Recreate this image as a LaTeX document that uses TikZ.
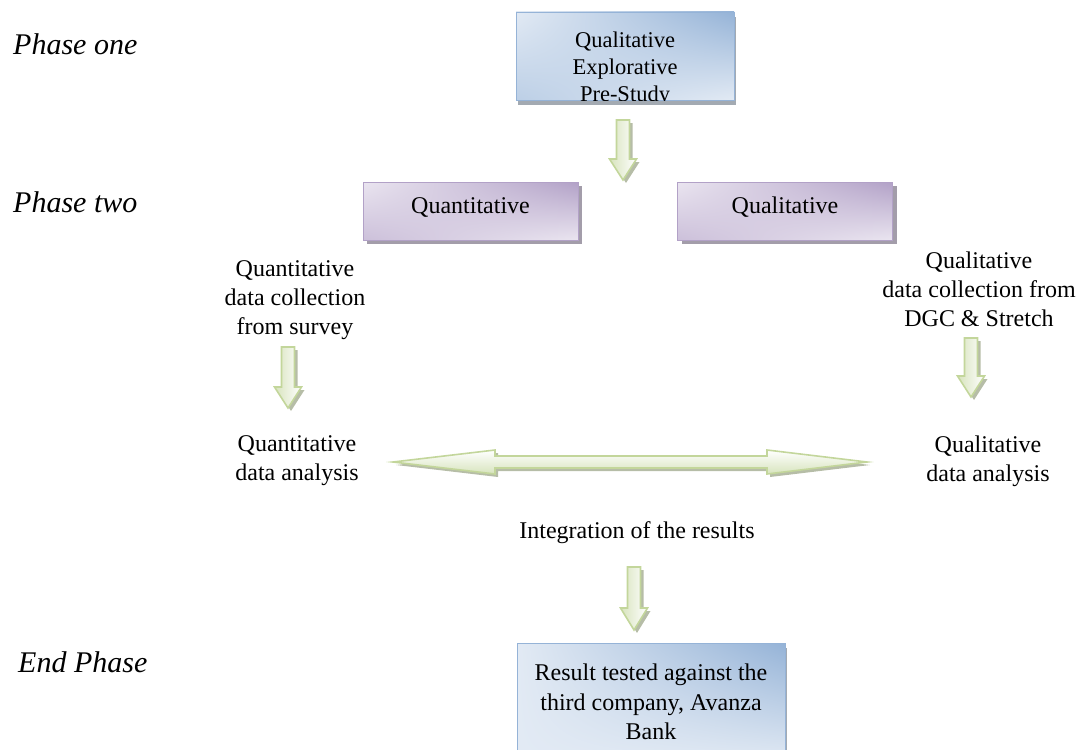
\documentclass[tikz,border=0pt]{standalone}
\usepackage{fontspec}
\setmainfont{Liberation Serif}
\usetikzlibrary{shadows,shadings}

\definecolor{blueDark}{HTML}{95B3D7}
\definecolor{blueMid}{HTML}{BCCFE6}
\definecolor{blueLight}{HTML}{E2EAF4}
\definecolor{blueShadow}{HTML}{A3AAB2}
\definecolor{purpleDark}{HTML}{B2A1C7}
\definecolor{purpleMid}{HTML}{CCC0DA}
\definecolor{purpleLight}{HTML}{EAE5F0}
\definecolor{purpleShadow}{HTML}{A39DAA}
\definecolor{arrowEdge}{HTML}{C3D69B}
\definecolor{arrowFill}{HTML}{D7E4BD}
\definecolor{arrowShade}{HTML}{9EA78A}

% block arrow pointing down: centre x, top y, tip y, head length
\newcommand\blockdown[4]{%
  \fill[arrowshadow,shift={(3,3)}] (#1-6.5,#2) -- (#1+6.5,#2) -- (#1+6.5,#3-#4)
    -- (#1+13.5,#3-#4) -- (#1,#3) -- (#1-13.5,#3-#4) -- (#1-6.5,#3-#4) -- cycle;
  \draw[arrowbody] (#1-6.5,#2) -- (#1+6.5,#2) -- (#1+6.5,#3-#4)
    -- (#1+13.5,#3-#4) -- (#1,#3) -- (#1-13.5,#3-#4) -- (#1-6.5,#3-#4) -- cycle;
}

\begin{document}
\begin{tikzpicture}[x=1pt,y=-1pt,
  txt/.style={align=center, inner sep=0pt, font=\fontsize{24}{29}\selectfont},
  phase/.style={anchor=base west, inner sep=0pt, font=\fontsize{30}{34}\selectfont\itshape},
  bluebox/.style={rectangle, draw=blueDark, line width=0.8pt,
    upper left=blueMid, upper right=blueDark, lower left=blueMid, lower right=blueLight,
    general shadow={fill=blueShadow, shadow xshift=2pt, shadow yshift=-5pt}},
  purplebox/.style={rectangle, draw=purpleDark, line width=0.8pt,
    upper left=purpleLight, upper right=purpleDark, lower left=purpleMid, lower right=purpleLight,
    minimum width=215, minimum height=58, inner sep=0pt,
    text height=17pt, text depth=13pt, font=\fontsize{24}{29}\selectfont,
    general shadow={fill=purpleShadow, shadow xshift=4pt, shadow yshift=-4pt}},
  arrowbody/.style={draw=arrowEdge, line width=1.6pt, line join=miter,
    left color=arrowFill, right color=white},
  arrowshadow/.style={fill=arrowShade, opacity=0.75},
]
\useasboundingbox (0,0) rectangle (1083,749);

% phase labels
\node[phase] (p1) at (13,55) {Phase one};
\node[phase] (p2) at (13,212) {Phase two};
\node[phase] (p3) at (18,672) {End Phase};

% phase one: pre-study box
\node[bluebox, minimum width=218, minimum height=88,
  upper left=blueLight, lower left=blueMid] (pre) at (625,56) {};
\begin{scope}
  \clip (pre.north west) rectangle (pre.south east);
  \node[txt, font=\fontsize{22.5}{27}\selectfont] (pretxt) at (625,69)
    {Qualitative\\Explorative\\Pre-Study};
\end{scope}

\blockdown{623}{120}{180}{21}

% phase two: the two branches
\node[purplebox] (quan) at (470.5,211) {Quantitative};
\node[purplebox] (qual) at (785,211) {Qualitative};

\node[txt] (quancol) at (295,300) {Quantitative\\data collection\\from survey};
\node[txt] (qualcol) at (979,289) {Qualitative\\data collection from\\DGC \& Stretch};

\blockdown{288}{347}{408}{21}
\blockdown{971}{338}{397}{21}

\node[txt] (quanana) at (297,461) {Quantitative\\data analysis};
\node[txt] (qualana) at (988,461) {Qualitative\\data analysis};

% two-headed arrow between the analyses
\fill[arrowshadow,shift={(3,3)}] (393,462) -- (495,450) -- (495,456) -- (767,456)
  -- (767,450) -- (867,462) -- (767,474) -- (767,468) -- (495,468) -- (495,474) -- cycle;
\draw[draw=arrowEdge, line width=1.6pt, top color=white, bottom color=arrowFill]
  (393,462) -- (495,450) -- (495,456) -- (767,456)
  -- (767,450) -- (867,462) -- (767,474) -- (767,468) -- (495,468) -- (495,474) -- cycle;

\node[txt] (integ) at (637,533) {Integration of the results};

\blockdown{634}{567}{630}{22}

% end phase box
\node[bluebox, minimum width=268, minimum height=120,
  upper left=blueLight, lower left=blueLight] (bank) at (651,703) {};
\node[txt, font=\fontsize{24}{29.5}\selectfont] (banktxt) at (651,702)
  {Result tested against the\\third company, Avanza\\Bank};
\end{tikzpicture}
\end{document}
